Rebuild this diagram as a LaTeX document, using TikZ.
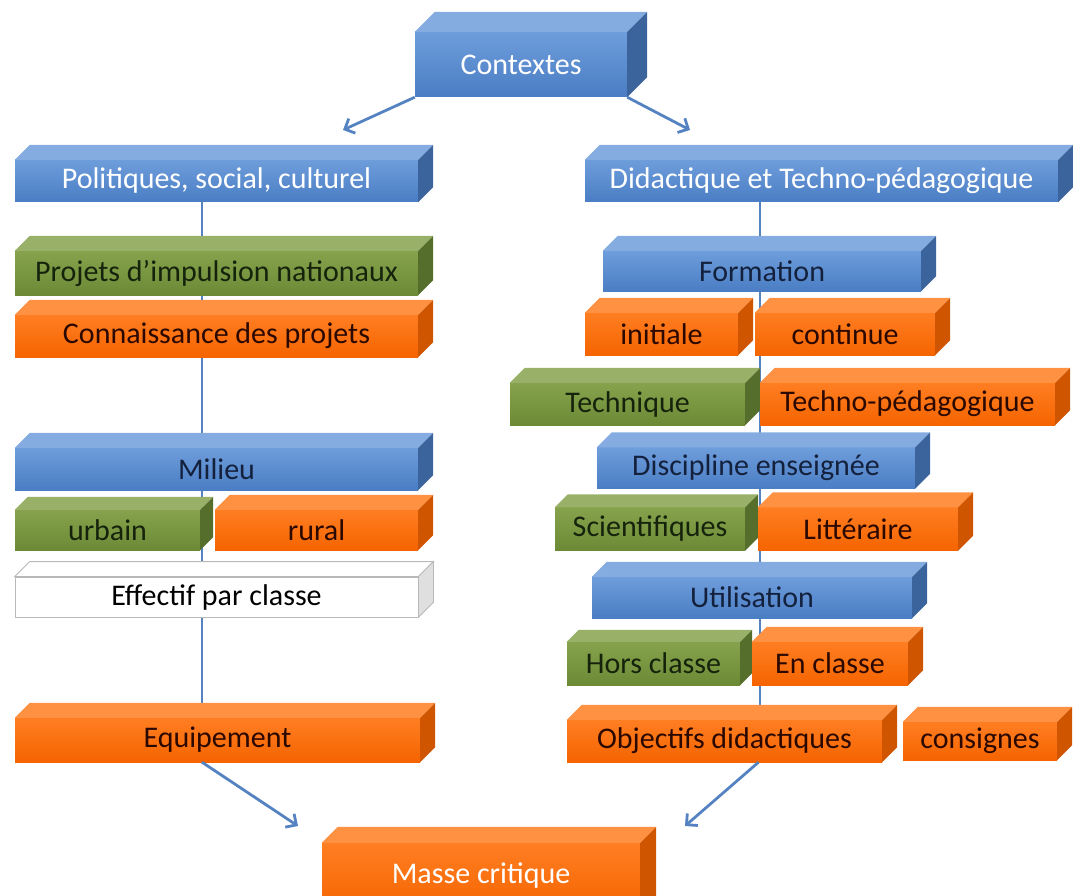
\documentclass[tikz,border=0pt]{standalone}
\usepackage{fontspec}
\setmainfont{Carlito}
\usetikzlibrary{arrows.meta,backgrounds}

\definecolor{bluhi}{HTML}{6E9DDB}
\definecolor{bluelo}{HTML}{4A7DC4}
\definecolor{grnhi}{HTML}{86A24C}
\definecolor{grnlo}{HTML}{6C8A36}
\definecolor{orghi}{HTML}{FF7E22}
\definecolor{orglo}{HTML}{F56400}
\definecolor{navy}{HTML}{14213D}
\definecolor{darkgrn}{HTML}{16230C}
\definecolor{darkorg}{HTML}{2B0800}
\definecolor{linkblue}{HTML}{5583C2}

% extruded top and right faces of a box node
\newcommand{\faces}[3][15]{%
  \path[#3top] (#2.north west) -- ++(#1,-#1) -- ([shift={(#1,-#1)}]#2.north east) -- (#2.north east) -- cycle;
  \path[#3side] (#2.north east) -- ++(#1,-#1) -- ([shift={(#1,-#1)}]#2.south east) -- (#2.south east) -- cycle;}

\begin{document}
\begin{tikzpicture}[x=1pt,y=-1pt,
  every node/.style={inner sep=0pt,font=\fontsize{30}{34}\selectfont},
  bluebox/.style={top color=bluhi,bottom color=bluelo,text=white},
  greenbox/.style={top color=grnhi,bottom color=grnlo,text=darkgrn},
  orangebox/.style={top color=orghi,bottom color=orglo,text=darkorg},
  whitebox/.style={fill=white,draw=gray!55,line width=0.8pt,text=black},
  blutop/.style={fill=bluhi!85!white},
  bluside/.style={fill=bluelo!80!black},
  grntop/.style={fill=grnhi!85!white},
  grnside/.style={fill=grnlo!80!black},
  orgtop/.style={fill=orghi!85!white},
  orgside/.style={fill=orglo!85!black},
  whttop/.style={fill=white,draw=gray!55,line width=0.8pt},
  whtside/.style={fill=gray!25,draw=gray!55,line width=0.8pt},
  spine/.style={draw=linkblue,line width=2.8pt},
  arr/.style={draw=linkblue,line width=2.8pt,-{Straight Barb[length=8pt,width=16pt]}}]
  \useasboundingbox (0,0) rectangle (1073,896);

  % top
  \node[bluebox,minimum width=212,minimum height=65] (ctx) at (521,64.5) {Contextes};
  \faces[20]{ctx}{blu}

  % left column
  \node[bluebox,minimum width=403,minimum height=42] (pol) at (216.5,181) {Politiques, social, culturel};
  \faces{pol}{blu}
  \node[greenbox,minimum width=403,minimum height=44] (proj) at (216.5,273) {Projets d’impulsion nationaux};
  \faces{proj}{grn}
  \node[orangebox,minimum width=403,minimum height=42] (conn) at (216.5,336) {Connaissance des projets};
  \faces{conn}{org}
  \node[bluebox,text=navy,minimum width=403,minimum height=42] (mil) at (216.5,469) {Milieu};
  \faces{mil}{blu}
  \node[greenbox,minimum width=185,minimum height=40] (urb) at (107.5,530) {urbain};
  \faces[13]{urb}{grn}
  \node[orangebox,minimum width=203,minimum height=40] (rur) at (316.5,530) {rural};
  \faces{rur}{org}
  \node[whitebox,minimum width=403,minimum height=40] (eff) at (216.5,597) {Effectif par classe};
  \faces{eff}{wht}
  \node[orangebox,minimum width=405,minimum height=44] (equ) at (217.5,740) {Equipement};
  \faces{equ}{org}

  % right column
  \node[bluebox,minimum width=473,minimum height=42] (did) at (821.5,181) {Didactique et Techno-pédagogique};
  \faces{did}{blu}
  \node[bluebox,text=navy,minimum width=318,minimum height=40] (form) at (762,271) {Formation};
  \faces{form}{blu}
  \node[orangebox,minimum width=153,minimum height=42] (ini) at (661.5,334) {initiale};
  \faces{ini}{org}
  \node[orangebox,minimum width=180,minimum height=42] (cont) at (845,334) {continue};
  \faces{cont}{org}
  \node[greenbox,minimum width=235,minimum height=42] (tech) at (627.5,404) {Technique};
  \faces{tech}{grn}
  \node[orangebox,minimum width=295,minimum height=42] (tped) at (907.5,404) {Techno-pédagogique};
  \faces{tped}{org}
  \node[bluebox,text=navy,minimum width=318,minimum height=41] (disc) at (756,468) {Discipline enseignée};
  \faces{disc}{blu}
  \node[greenbox,minimum width=190,minimum height=43] (sci) at (650,529) {Scientifiques};
  \faces[13]{sci}{grn}
  \node[orangebox,minimum width=200,minimum height=43] (litt) at (858,529) {Littéraire};
  \faces{litt}{org}
  \node[bluebox,text=navy,minimum width=320,minimum height=41] (util) at (752,597.5) {Utilisation};
  \faces{util}{blu}
  \node[greenbox,minimum width=173,minimum height=43] (hors) at (653.5,663.5) {Hors classe};
  \faces[12]{hors}{grn}
  \node[orangebox,minimum width=156,minimum height=43] (encl) at (830,663.5) {En classe};
  \faces{encl}{org}
  \node[orangebox,minimum width=315,minimum height=42] (obj) at (724.5,741) {Objectifs didactiques};
  \faces{obj}{org}
  \node[orangebox,minimum width=154,minimum height=38] (cons) at (980,741) {consignes};
  \faces{cons}{org}

  % bottom
  \node[orangebox,text=white,minimum width=318,minimum height=70] (masse) at (481,878) {\raisebox{10pt}{Masse critique}};
  \faces[16]{masse}{org}

  % spines
  \coordinate (lsp) at (202,0);
  \coordinate (rsp) at (760,0);
  \begin{pgfonlayer}{background}
    \draw[spine] (pol.south -| lsp) -- (equ.north -| lsp);
    \draw[spine] (did.south -| rsp) -- (obj.north -| rsp);
  \end{pgfonlayer}

  % arrows
  \coordinate (tl) at (343,130);
  \coordinate (tr) at (690,130);
  \coordinate (bl) at (298,826);
  \coordinate (br) at (685,826);
  \draw[arr] (ctx.south west) -- (tl);
  \draw[arr] (ctx.south east) -- (tr);
  \draw[arr] (equ.south -| lsp) -- (bl);
  \draw[arr] ([xshift=34pt]obj.south) -- (br);
\end{tikzpicture}
\end{document}
